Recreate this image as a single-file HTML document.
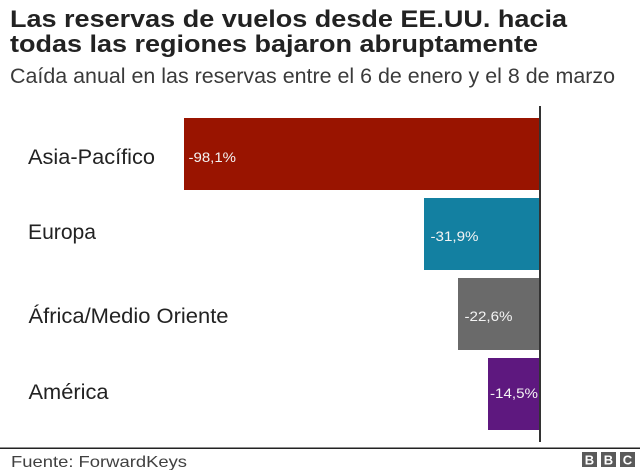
<!DOCTYPE html>
<html>
<head>
<meta charset="utf-8">
<style>
  html, body { margin: 0; padding: 0; background: #ffffff; }
  svg { display: block; }
  text { font-family: "Liberation Sans", Arial, Helvetica, sans-serif; }
</style>
</head>
<body>
<svg width="640" height="470" viewBox="0 0 640 470" xmlns="http://www.w3.org/2000/svg">
  <rect x="0" y="0" width="640" height="470" fill="#ffffff"/>

  <!-- Title -->
  <text x="10" y="27" font-size="24" font-weight="bold" fill="#222222" textLength="557" lengthAdjust="spacingAndGlyphs">Las reservas de vuelos desde EE.UU. hacia</text>
  <text x="10" y="52" font-size="24" font-weight="bold" fill="#222222" textLength="528" lengthAdjust="spacingAndGlyphs">todas las regiones bajaron abruptamente</text>
  <!-- Subtitle -->
  <text x="10" y="83" font-size="21" fill="#3a3a3a" textLength="605" lengthAdjust="spacingAndGlyphs">Caída anual en las reservas entre el 6 de enero y el 8 de marzo</text>

  <!-- Bars -->
  <rect x="184" y="118" width="356" height="72" fill="#991400"/>
  <rect x="424" y="198" width="116" height="72" fill="#1380A1"/>
  <rect x="458" y="278" width="82" height="72" fill="#6a6a6a"/>
  <rect x="488" y="358" width="52" height="72" fill="#5e187f"/>

  <!-- Axis line -->
  <rect x="539" y="106" width="2" height="336" fill="#333333"/>

  <!-- Category labels -->
  <text x="28" y="164" font-size="21" fill="#222222" textLength="127" lengthAdjust="spacingAndGlyphs">Asia-Pacífico</text>
  <text x="28" y="239" font-size="21" fill="#222222" textLength="68" lengthAdjust="spacingAndGlyphs">Europa</text>
  <text x="28.5" y="323" font-size="21" fill="#222222" textLength="200" lengthAdjust="spacingAndGlyphs">África/Medio Oriente</text>
  <text x="28.5" y="399" font-size="21" fill="#222222" textLength="80" lengthAdjust="spacingAndGlyphs">América</text>

  <!-- Value labels -->
  <text x="188.5" y="162" font-size="13.5" fill="#f4f4f4" textLength="47.5" lengthAdjust="spacingAndGlyphs">-98,1%</text>
  <text x="430.5" y="241" font-size="13.5" fill="#f4f4f4" textLength="48" lengthAdjust="spacingAndGlyphs">-31,9%</text>
  <text x="464.5" y="321" font-size="13.5" fill="#f4f4f4" textLength="48" lengthAdjust="spacingAndGlyphs">-22,6%</text>
  <text x="490" y="398" font-size="13.5" fill="#f4f4f4" textLength="48" lengthAdjust="spacingAndGlyphs">-14,5%</text>

  <!-- Footer rule -->
  <rect x="0" y="447.5" width="640" height="1.5" fill="#222222"/>

  <!-- Source -->
  <text x="11" y="467" font-size="16" fill="#404040" textLength="176" lengthAdjust="spacingAndGlyphs">Fuente: ForwardKeys</text>

  <!-- BBC logo -->
  <rect x="582" y="452" width="15" height="15" fill="#5a5a5a"/>
  <rect x="601" y="452" width="15" height="15" fill="#5a5a5a"/>
  <rect x="620" y="452" width="15" height="15" fill="#5a5a5a"/>
  <text x="589.5" y="464.5" font-size="13" font-weight="bold" fill="#ffffff" text-anchor="middle">B</text>
  <text x="608.5" y="464.5" font-size="13" font-weight="bold" fill="#ffffff" text-anchor="middle">B</text>
  <text x="627.5" y="464.5" font-size="13" font-weight="bold" fill="#ffffff" text-anchor="middle">C</text>
</svg>
</body>
</html>
